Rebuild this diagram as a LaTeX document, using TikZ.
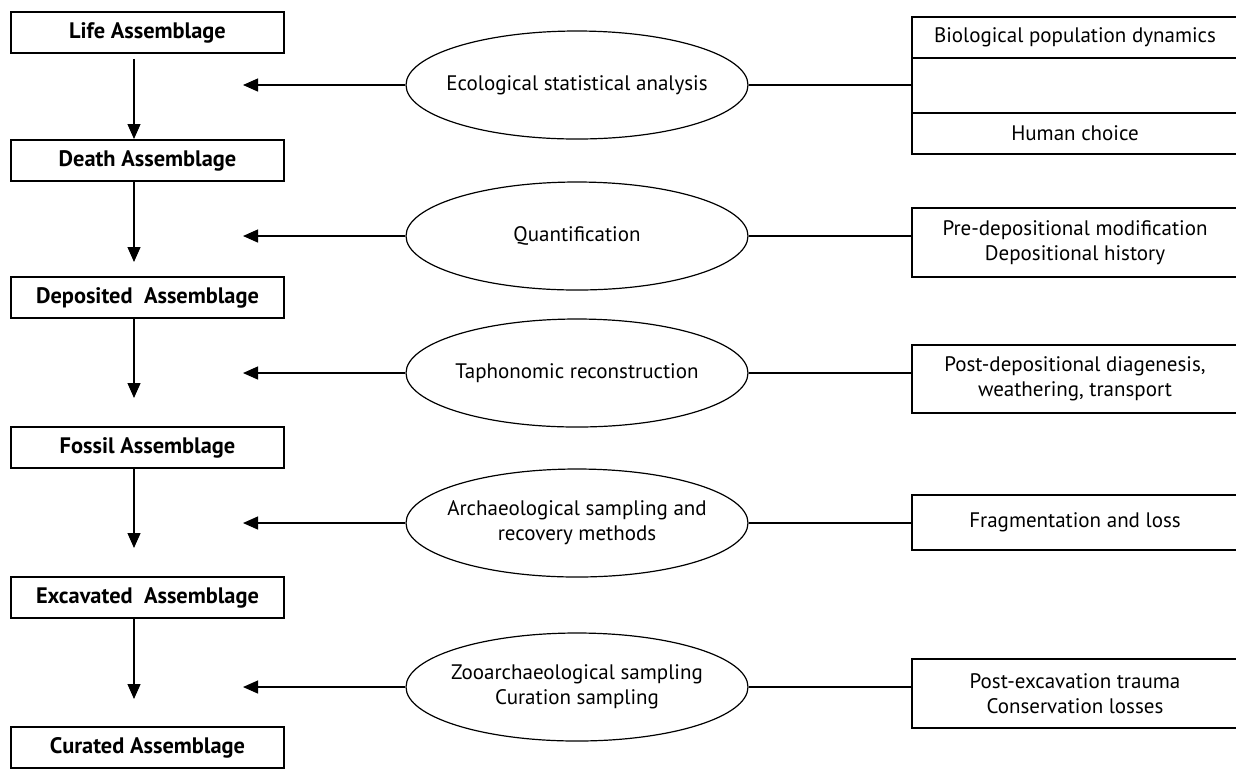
\documentclass[tikz,border=0pt]{standalone}
\usepackage{fontspec}
\setmainfont{PT Sans}
\usetikzlibrary{arrows.meta,shapes.geometric}
\tikzset{
  stage/.style={draw, line width=0.8pt, minimum width=136.5pt, minimum height=20.5pt,
    inner sep=0pt, font=\fontsize{11.2}{13}\selectfont\bfseries},
  factor/.style={draw, ellipse, line width=0.6pt, minimum width=171pt, minimum height=54pt,
    inner xsep=-8pt, inner ysep=0pt, align=center, font=\fontsize{10.5}{12.5}\selectfont},
  cause/.style={draw, line width=0.8pt, minimum width=163pt, inner sep=0pt,
    align=center, font=\fontsize{10.5}{12.5}\selectfont},
  flow/.style={-{Triangle[width=6.5pt,length=7.5pt]}, line width=0.6pt}
}
\begin{document}
\begin{tikzpicture}[x=0.5pt,y=-0.5pt]
      \useasboundingbox (0,0) rectangle (1236,768);
      \clip (0,0) rectangle (1236,768);
      \node[stage] (life) at (147.5,32.5) {Life Assemblage};
      \node[stage] (death) at (147.5,160.5) {Death Assemblage};
      \node[stage] (deposited) at (147.5,297.5) {Deposited~~Assemblage};
      \node[stage] (fossil) at (147.5,447.5) {Fossil Assemblage};
      \node[stage] (excavated) at (147.5,597.5) {Excavated~~Assemblage};
      \node[stage] (curated) at (147.5,747.5) {Curated Assemblage};
      \node[factor] (eco) at (577,85) {Ecological statistical analysis};
      \node[factor] (quant) at (577,236) {Quantification};
      \node[factor] (tapho) at (577,373) {Taphonomic reconstruction};
      \node[factor] (archsamp) at (577,523) {Archaeological sampling and\\recovery methods};
      \node[factor] (zoosamp) at (577,687) {Zooarchaeological sampling\\Curation sampling};
      \node[cause, minimum height=20.5pt] (bio) at (1075,37.5) {Biological population dynamics};
      \node[cause, minimum height=27.5pt] (gap) at (1075,85.5) {};
      \node[cause, minimum height=20.5pt] (human) at (1075,133.5) {Human choice};
      \node[cause, minimum height=34.5pt] (predep) at (1075,242.5) {Pre-depositional modification\\Depositional history};
      \node[cause, minimum height=34pt] (postdep) at (1075,379) {Post-depositional diagenesis,\\weathering, transport};
      \node[cause, minimum height=27.5pt] (frag) at (1075,522.5) {Fragmentation and loss};
      \node[cause, minimum height=34.5pt] (postexc) at (1075,693.5) {Post-excavation trauma\\Conservation losses};
      \coordinate (t1) at (134,139);
      \coordinate (t2) at (134,262);
      \coordinate (t3) at (134,398);
      \coordinate (t4) at (134,548);
      \coordinate (t5) at (134,699);
      \coordinate (h1) at (243,85);
      \coordinate (h2) at (243,236);
      \coordinate (h3) at (243,373);
      \coordinate (h4) at (243,523);
      \coordinate (h5) at (243,687);
      \begin{scope}[flow]
        \draw[shorten <=2.5pt] (life.south -| t1) to (t1);
        \draw (death.south -| t2) to (t2);
        \draw (deposited.south -| t3) to (t3);
        \draw (fossil.south -| t4) to (t4);
        \draw (excavated.south -| t5) to (t5);
        \draw (eco.west) to (h1);
        \draw (quant.west) to (h2);
        \draw (tapho.west) to (h3);
        \draw (archsamp.west) to (h4);
        \draw (zoosamp.west) to (h5);
      \end{scope}
      \begin{scope}[line width=0.6pt]
        \draw (eco.east) to (eco.east -| gap.west);
        \draw (quant.east) to (quant.east -| predep.west);
        \draw (tapho.east) to (tapho.east -| postdep.west);
        \draw (archsamp.east) to (archsamp.east -| frag.west);
        \draw (zoosamp.east) to (zoosamp.east -| postexc.west);
      \end{scope}
    \end{tikzpicture}
\end{document}
